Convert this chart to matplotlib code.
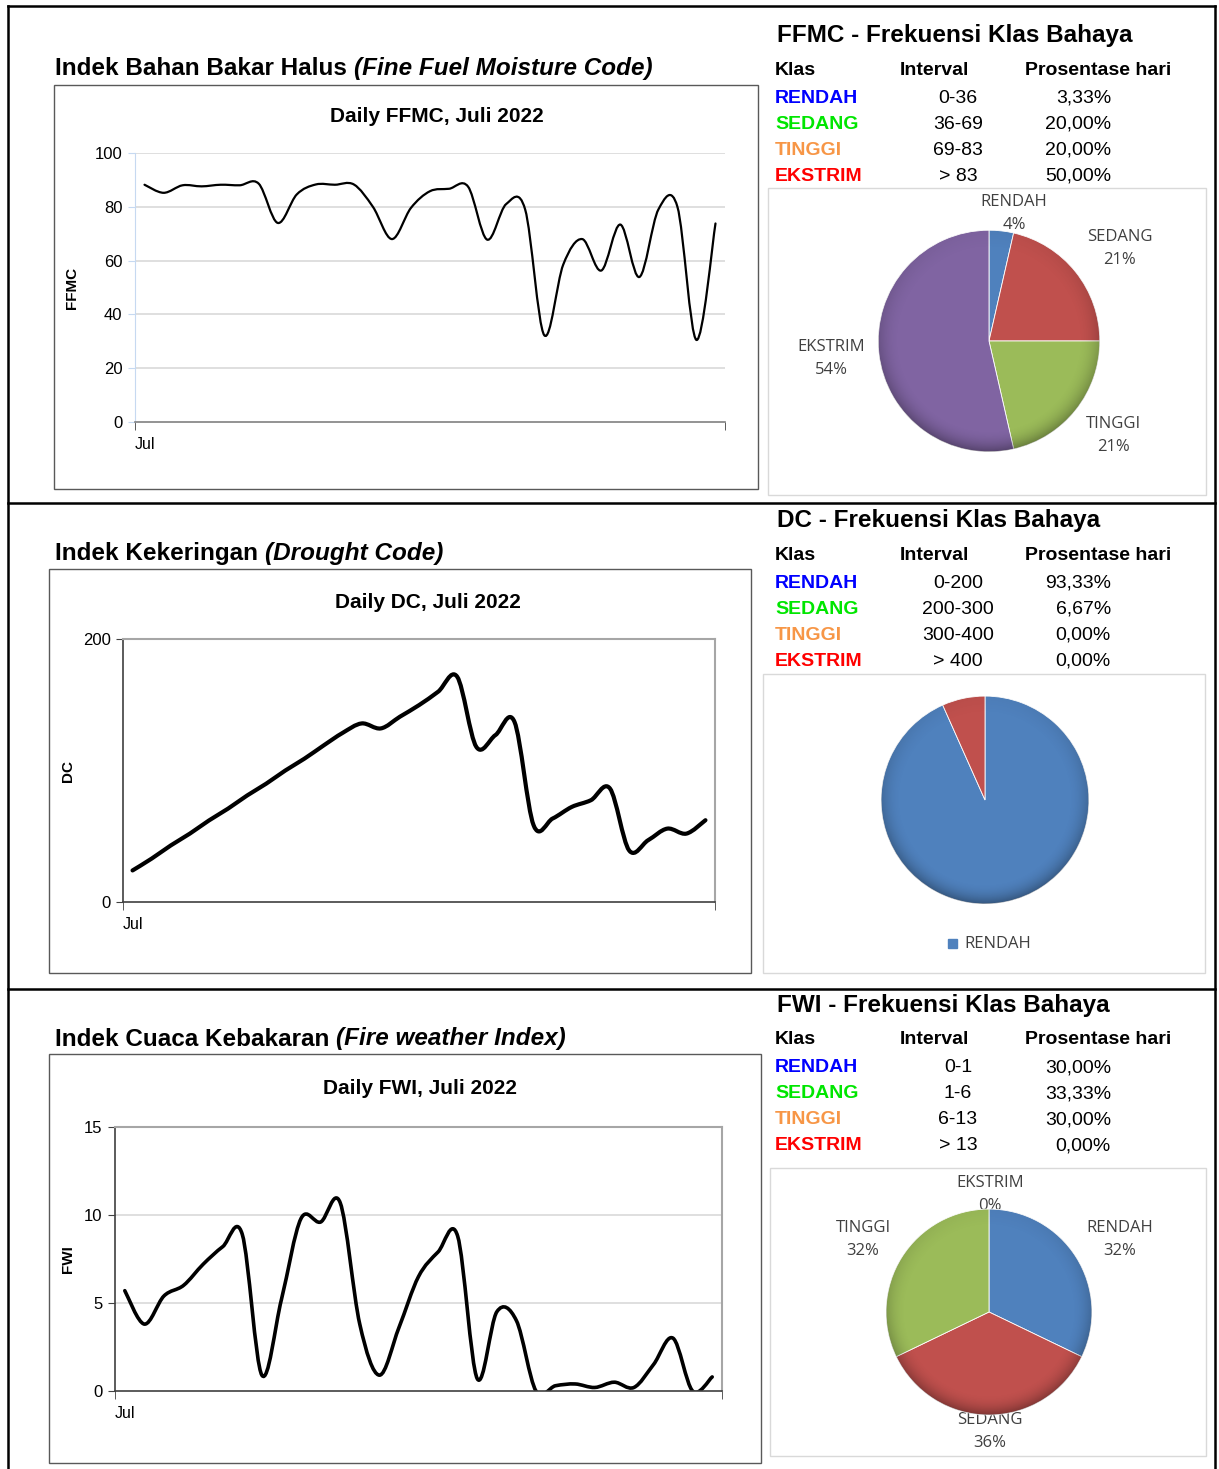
import numpy as np
import matplotlib
matplotlib.use('Agg')
import matplotlib.pyplot as plt
from matplotlib.path import Path
from matplotlib.patches import PathPatch, Rectangle, Circle

plt.rcParams['font.family'] = ['Liberation Sans', 'DejaVu Sans']

# daily index values, Juli 2022
ffmc = [88.2, 85.2, 88.0, 87.6, 88.2, 88.0, 88.6, 74.0, 84.6, 88.3, 88.2, 88.3, 80.0, 68.0, 79.6, 85.8,
        86.7, 87.5, 67.8, 81.0, 79.0, 32.3, 58.5, 68.0, 56.3, 73.4, 53.9, 79.0, 80.0, 30.5, 73.8]
dc = [24, 33, 43, 52, 62, 71, 81, 90, 100, 109, 119, 128.6, 135.8, 132.0, 140.9, 149.7,
      159.9, 171.3, 118.0, 126.9, 137.0, 58.4, 63.5, 72.3, 77.4, 86.3, 39.3, 47.0, 55.8, 52.0, 62.2]
fwi = [5.7, 3.8, 5.4, 6.0, 7.2, 8.2, 8.9, 0.9, 5.2, 9.8, 9.6, 10.7, 3.8, 0.9, 3.6, 6.5,
       7.9, 8.8, 0.7, 4.5, 4.0, 0.0, 0.3, 0.4, 0.2, 0.5, 0.2, 1.5, 3.0, 0.0, 0.8]

klas = ['RENDAH', 'SEDANG', 'TINGGI', 'EKSTRIM']
klas_text_col = ['#0000ff', '#00e600', '#f79646', '#ff0000']
pie_col = ['#4f81bd', '#c0504d', '#9bbb59', '#8064a2']

ffmc_int = ['0-36', '36-69', '69-83', '> 83']
dc_int = ['0-200', '200-300', '300-400', '> 400']
fwi_int = ['0-1', '1-6', '6-13', '> 13']

ffmc_pct = [3.33, 20.00, 20.00, 50.00]
dc_pct = [93.33, 6.67, 0.00, 0.00]
fwi_pct = [30.00, 33.33, 30.00, 0.00]

W, H = 1219, 1469
fig = plt.figure(figsize=(W / 100, H / 100), dpi=100)

def px_axes(x0, y0, x1, y1):
    return fig.add_axes([x0 / W, 1 - y1 / H, (x1 - x0) / W, (y1 - y0) / H])

# overlay in pixel coords for frames and text
ov = fig.add_axes([0, 0, 1, 1])
ov.set_xlim(0, W); ov.set_ylim(H, 0); ov.axis('off')

lw_frame = 1.8
ov.plot([8, 8], [6, H], color='k', lw=lw_frame)
ov.plot([1215, 1215], [6, H], color='k', lw=lw_frame)
for yy in [6, 503, 989]:
    ov.plot([8, 1215], [yy, yy], color='k', lw=lw_frame)

renderer = fig.canvas.get_renderer()

def two_part_title(x, y, a, b, size=17.5):
    t = ov.text(x, y, a, fontsize=size, fontweight='bold', va='center', ha='left')
    bb = t.get_window_extent(renderer=renderer)
    x2 = ov.transData.inverted().transform((bb.x1, 0))[0]
    ov.text(x2, y, b, fontsize=size, fontweight='bold', style='italic', va='center', ha='left')

def table(y0, title, intervals, pct):
    ov.text(777, y0, title, fontsize=17.5, fontweight='bold', va='center')
    yh = y0 + 35
    ov.text(775, yh, 'Klas', fontsize=14, fontweight='bold', va='center')
    ov.text(900, yh, 'Interval', fontsize=14, fontweight='bold', va='center')
    ov.text(1025, yh, 'Prosentase hari', fontsize=14, fontweight='bold', va='center')
    for i in range(4):
        yr = yh + 28 + 26 * i
        ov.text(775, yr, klas[i], fontsize=14, fontweight='bold', color=klas_text_col[i], va='center')
        ov.text(958, yr, intervals[i], fontsize=14, ha='center', va='center')
        ov.text(1111, yr, ('%.2f' % pct[i]).replace('.', ',') + '%', fontsize=14, ha='right', va='center')

def box(x0, y0, x1, y1, col, lw=1.0):
    ov.add_patch(Rectangle((x0, y0), x1 - x0, y1 - y0, fill=False, ec=col, lw=lw))

def smooth_line(ax, y, lw):
    x = np.arange(len(y), dtype=float)
    y = np.asarray(y, dtype=float)
    n = len(y)
    verts = [(x[0], y[0])]
    codes = [Path.MOVETO]
    for i in range(n - 1):
        p0 = max(i - 1, 0)
        p3 = min(i + 2, n - 1)
        c1 = (x[i] + (x[i + 1] - x[p0]) / 6, y[i] + (y[i + 1] - y[p0]) / 6)
        c2 = (x[i + 1] - (x[p3] - x[i]) / 6, y[i + 1] - (y[p3] - y[i]) / 6)
        verts += [c1, c2, (x[i + 1], y[i + 1])]
        codes += [Path.CURVE4] * 3
    ax.add_patch(PathPatch(Path(verts, codes), fill=False, lw=lw, ec='k', capstyle='round', joinstyle='round'))

tick_font = ['Liberation Sans Narrow', 'Liberation Sans']

def line_axes(rect, y, ymax, yticks, lw, grid, framed, ylabel, ylab_x, title, title_xy):
    ax = px_axes(*rect)
    ax.set_xlim(-0.5, len(y) - 0.5)
    ax.set_ylim(0, ymax)
    ax.set_yticks(yticks)
    ax.set_yticklabels([str(v) for v in yticks], family=tick_font, fontsize=12)
    ax.set_xticks([0])
    ax.set_xticklabels(['Jul'], family=tick_font, fontsize=11.5)
    ax.set_xticks([-0.5, len(y) - 0.5], minor=True)
    ax.tick_params(axis='x', which='major', length=0, pad=11)
    ax.tick_params(axis='x', which='minor', length=6, direction='out', color='#404040')
    ax.tick_params(axis='y', length=5, direction='out', pad=4)
    for v in grid:
        ax.axhline(v, color='#d9d9d9', lw=1.2, zorder=0)
    if framed:
        for s in ['top', 'right']:
            ax.spines[s].set_color('#a6a6a6'); ax.spines[s].set_linewidth(1.5)
        for s in ['left', 'bottom']:
            ax.spines[s].set_color('#404040'); ax.spines[s].set_linewidth(1.2)
        ax.tick_params(axis='y', color='#404040')
    else:
        ax.spines['top'].set_visible(False)
        ax.spines['right'].set_visible(False)
        ax.spines['left'].set_color('#c6d9f1')
        ax.spines['bottom'].set_color('#808080'); ax.spines['bottom'].set_linewidth(1.2)
        ax.tick_params(axis='y', color='#c6d9f1')
    smooth_line(ax, y, lw)
    ov.text(ylab_x, (rect[1] + rect[3]) / 2, ylabel, rotation=90, fontsize=11, fontweight='bold',
            ha='center', va='center')
    ov.text(title_xy[0], title_xy[1], title, fontsize=15, fontweight='bold', ha='center', va='center',
            family=tick_font)
    return ax

def pie_axes(cx, cy, r, vals, cols):
    ax = px_axes(cx - r, cy - r, cx + r, cy + r)
    v = [a for a in vals if a > 0]
    c = [cols[i] for i, a in enumerate(vals) if a > 0]
    wedges, _ = ax.pie(v, colors=c, startangle=90, counterclock=False, radius=1,
                       wedgeprops=dict(ec='white', lw=0.6))
    # soft rim shading for the bevelled look
    g = np.linspace(-1, 1, 300)
    X, Y = np.meshgrid(g, g)
    R = np.sqrt(X ** 2 + Y ** 2)
    img = np.zeros((300, 300, 4))
    a = np.clip((R - 0.8) / 0.2, 0, 1) ** 2 * (0.18 + 0.15 * (-Y))
    img[..., 3] = np.clip(a, 0, 0.4)
    im = ax.imshow(img, extent=(-1, 1, -1, 1), origin='lower', zorder=5)
    im.set_clip_path(Circle((0, 0), 1, transform=ax.transData))
    ax.set_xlim(-1.02, 1.02); ax.set_ylim(-1.02, 1.02)
    ax.set_aspect('equal'); ax.axis('off')
    return ax

pie_font = dict(family=['Open Sans', 'DejaVu Sans'], fontsize=12, color='#404040', ha='center', va='center')

def pie_label(x, y, name, pct):
    ov.text(x, y, name, **pie_font)
    ov.text(x, y + 23, '%d%%' % pct, **pie_font)

def pcts(vals):
    s = sum(vals)
    return [int(round(v / s * 100)) for v in vals]

# ---- band 1: FFMC
two_part_title(55, 68, 'Indek Bahan Bakar Halus ', '(Fine Fuel Moisture Code)')
box(54, 85, 758, 489, '#595959')
line_axes((135, 153, 725, 422), ffmc, 100, [0, 20, 40, 60, 80, 100], 1.6, [20, 40, 60, 80, 100], False,
          'FFMC', 72, 'Daily FFMC, Juli 2022', (437, 116))
table(35, 'FFMC - Frekuensi Klas Bahaya', ffmc_int, ffmc_pct)
box(768, 188, 1206, 495, '#d9d9d9')
pie_axes(989, 341, 113, ffmc_pct, pie_col)
p = pcts(ffmc_pct)
pie_label(1014, 202, klas[0], p[0])
pie_label(1120, 237, klas[1], p[1])
pie_label(1113, 424, klas[2], p[2])
pie_label(831, 347, klas[3], p[3])

# ---- band 2: DC
two_part_title(55, 553, 'Indek Kekeringan ', '(Drought Code)')
box(49, 569, 751, 973, '#595959')
line_axes((123, 639, 715, 902), dc, 200, [0, 200], 3.0, [], True,
          'DC', 68, 'Daily DC, Juli 2022', (428, 602))
table(520, 'DC - Frekuensi Klas Bahaya', dc_int, dc_pct)
box(763, 674, 1205, 973, '#d9d9d9')
pie_axes(985, 800, 106, dc_pct, pie_col)
p = pcts(dc_pct)
ov.text(1021, 825, '%d%%' % p[0], **pie_font)
ov.add_patch(Rectangle((948, 939), 9, 9, color=pie_col[0]))
ov.text(964, 944, klas[0], family=['Open Sans', 'DejaVu Sans'], fontsize=12, color='#404040',
        ha='left', va='center')

# ---- band 3: FWI
two_part_title(55, 1039, 'Indek Cuaca Kebakaran ', '(Fire weather Index)')
box(49, 1054, 761, 1463, '#595959')
line_axes((115, 1127, 722, 1391), fwi, 15, [0, 5, 10, 15], 2.6, [5, 10], True,
          'FWI', 68, 'Daily FWI, Juli 2022', (420, 1088))
table(1005, 'FWI - Frekuensi Klas Bahaya', fwi_int, fwi_pct)
box(770, 1168, 1206, 1456, '#d9d9d9')
pie_axes(989, 1312, 105, fwi_pct, pie_col)
p = pcts(fwi_pct)
pie_label(1120, 1228, klas[0], p[0])
pie_label(990, 1420, klas[1], p[1])
pie_label(863, 1228, klas[2], p[2])
pie_label(990, 1183, klas[3], p[3])

fig.savefig('out.png', dpi=100)
